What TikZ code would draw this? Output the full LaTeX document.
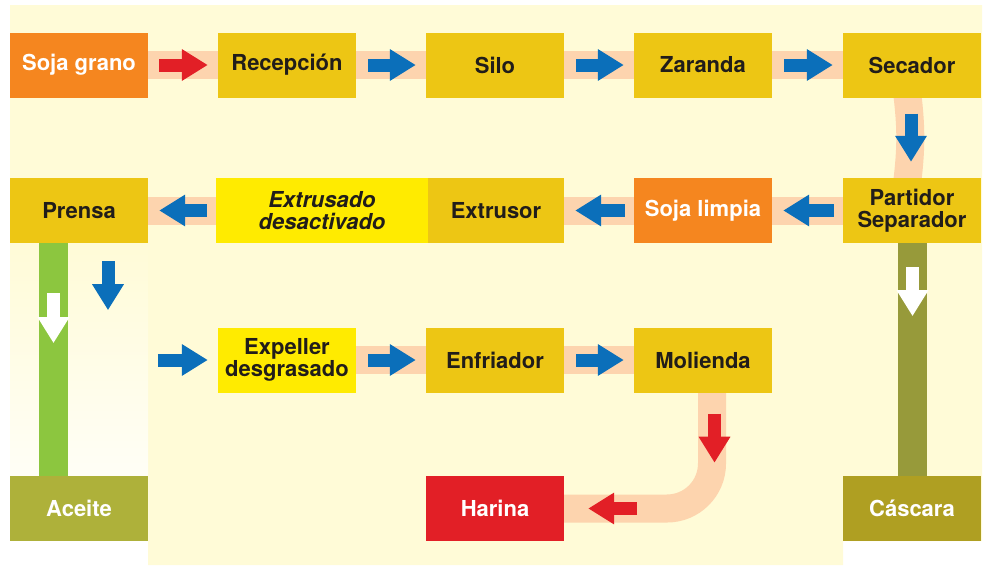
\documentclass[tikz,border=0pt]{standalone}
\usepackage{fontspec}
\setmainfont{TeX Gyre Heros}
\usetikzlibrary{arrows.meta,backgrounds}
\definecolor{fondo}{HTML}{FFFBD7}
\definecolor{oro}{HTML}{EDC614}
\definecolor{amarillo}{HTML}{FFEB00}
\definecolor{naranja}{HTML}{F5861F}
\definecolor{rojo}{HTML}{E21F26}
\definecolor{oliva}{HTML}{AEB13A}
\definecolor{olivaosc}{HTML}{AF9F22}
\definecolor{verde}{HTML}{8CC63F}
\definecolor{barraoliva}{HTML}{979A3A}
\definecolor{azul}{HTML}{0B6FBA}
\definecolor{durazno}{HTML}{FDD4AE}
\definecolor{tinta}{HTML}{211D1A}
\tikzset{
  caja/.style={rectangle, fill=oro, text=tinta, minimum width=138pt, minimum height=65pt,
    inner sep=0pt, align=center, font=\fontsize{22}{22}\selectfont\bfseries},
  cajab/.style={caja, text=white},
  banda/.style={draw=durazno, line width=28pt},
  flecha/.style={line width=13pt, -{Triangle[width=30pt,length=26pt]}},
}
\begin{document}
\begin{tikzpicture}[x=1pt,y=-1pt]
\useasboundingbox (0,0) rectangle (992,571);
% fila 1
\node[cajab, fill=naranja] (soja) at (79,65) {Soja grano};
\node[caja] (recep) at (287,65) {Recepción};
\node[caja] (silo) at (495,65) {Silo};
\node[caja] (zaranda) at (703,65) {Zaranda};
\node[caja] (secador) at (912,65) {Secador};
% fila 2
\node[caja] (prensa) at (79,210.5) {Prensa};
\node[caja, fill=amarillo, minimum width=212pt, font=\fontsize{22}{22}\selectfont\bfseries\itshape] (extrusado) at (322,210.5) {Extrusado\\desactivado};
\node[caja, minimum width=136pt] (extrusor) at (496,210.5) {Extrusor};
\node[cajab, fill=naranja] (limpia) at (703,210.5) {Soja limpia};
\node[caja] (partidor) at (912,210.5) {Partidor\\Separador};
% fila 3
\node[caja, fill=amarillo] (expeller) at (287,360) {Expeller\\desgrasado};
\node[caja] (enfriador) at (495,360) {Enfriador};
\node[caja] (molienda) at (703,360) {Molienda};
% fila 4
\node[cajab, fill=oliva] (aceite) at (79,508.5) {Aceite};
\node[cajab, fill=rojo] (harina) at (495,508.5) {Harina};
\node[cajab, fill=olivaosc] (cascara) at (912,508.5) {Cáscara};
\begin{scope}[on background layer]
\fill[fondo] (10,5) rectangle (982,541) (148,541) rectangle (843,565);
\shade[top color=fondo, bottom color=white] (10,243) rectangle (148,541);
% bandas
\foreach \a/\b in {soja/recep, recep/silo, silo/zaranda, zaranda/secador, expeller/enfriador, enfriador/molienda}
  \draw[banda] (\a.east) -- (\b.west);
\foreach \a/\b in {partidor/limpia, limpia/extrusor, extrusado/prensa}
  \draw[banda] (\a.west) -- (\b.east);
\draw[banda] ([xshift=-5pt,yshift=6pt]secador.south) to[bend left=7] ([xshift=-5pt,yshift=-6pt]partidor.north);
\draw[banda, rounded corners=45pt] ([xshift=9pt]molienda.south) |- (harina.east);
\fill[verde] ([xshift=-40pt]prensa.south) rectangle ([xshift=-11pt]aceite.north);
\fill[barraoliva] ([xshift=-14pt]partidor.south) rectangle ([xshift=15pt]cascara.north);
\end{scope}
% flechas
\draw[flecha, rojo] ([xshift=11pt]soja.east) -- ([xshift=-10pt]recep.west);
\foreach \a/\b in {recep/silo, silo/zaranda, zaranda/secador, expeller/enfriador, enfriador/molienda}
  \draw[flecha, azul] ([xshift=12pt]\a.east) -- ([xshift=-10pt]\b.west);
\foreach \a/\b in {partidor/limpia, limpia/extrusor, extrusado/prensa}
  \draw[flecha, azul] ([xshift=-9pt]\a.west) -- ([xshift=11pt]\b.east);
\draw[flecha, azul] ([xshift=-1pt,yshift=-16pt]secador.south) -- ([xshift=-1pt,yshift=16pt]partidor.north);
\draw[flecha, azul] ([xshift=29pt,yshift=-18pt]prensa.south) -- ++(0,49);
\draw[flecha, azul] ([xshift=-60pt]expeller.west) -- ([xshift=-10pt]expeller.west);
\draw[flecha, white] ([xshift=-25.5pt,yshift=-50pt]prensa.south) -- ++(0,50);
\draw[flecha, white] ([xshift=0.5pt,yshift=-24pt]partidor.south) -- ++(0,49);
\draw[flecha, rojo] ([xshift=11.5pt,yshift=-21pt]molienda.south) -- ++(0,49);
\draw[flecha, rojo] ([xshift=73pt]harina.east) -- ([xshift=24pt]harina.east);
\end{tikzpicture}
\end{document}
